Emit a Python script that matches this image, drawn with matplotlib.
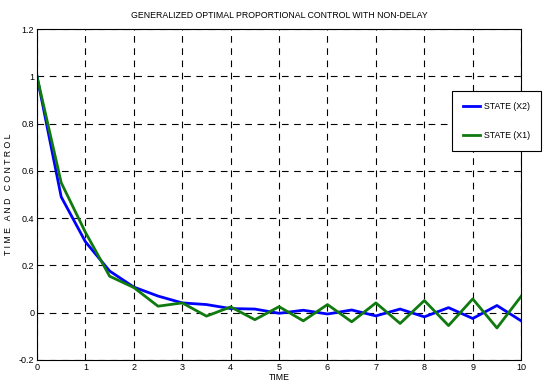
import matplotlib.pyplot as plt

t = [0, 0.5, 1, 1.5, 2, 2.5, 3, 3.5, 4, 4.5, 5, 5.5, 6, 6.5, 7, 7.5, 8, 8.5, 9, 9.5, 10]
x2 = [1.0, 0.49, 0.30, 0.176, 0.108, 0.07, 0.041, 0.034, 0.017, 0.015, -0.003,
      0.01, -0.006, 0.011, -0.014, 0.015, -0.018, 0.021, -0.025, 0.03, -0.035]
x1 = [1.0, 0.55, 0.34, 0.154, 0.106, 0.027, 0.041, -0.015, 0.024, -0.03, 0.025,
      -0.035, 0.034, -0.039, 0.041, -0.046, 0.051, -0.055, 0.058, -0.065, 0.069]

plt.rcParams['font.family'] = ['Liberation Sans', 'DejaVu Sans']

fig = plt.figure(figsize=(5.44, 3.89), dpi=100)
ax = fig.add_axes([0.068, 0.075, 0.89, 0.85])

ax.plot(t, x2, color='#0000ff', linewidth=2, label='STATE (X2)')
ax.plot(t, x1, color='#107a10', linewidth=2, label='STATE (X1)')

ax.set_xlim(0, 10)
ax.set_ylim(-0.2, 1.2)
ax.set_xticks(range(0, 11))
ax.set_yticks([-0.2, 0, 0.2, 0.4, 0.6, 0.8, 1, 1.2])
ax.set_yticklabels(['-0.2', '0', '0.2', '0.4', '0.6', '0.8', '1', '1.2'])
ax.tick_params(direction='in', labelsize=6.5, length=3, width=0.6, pad=2)
ax.grid(True, color='black', linestyle=(0, (6, 5)), linewidth=0.8)
for s in ax.spines.values():
    s.set_linewidth(0.8)

ax.set_title('GENERALIZED OPTIMAL PROPORTIONAL CONTROL WITH NON-DELAY', fontsize=6.3, pad=8)
ax.set_xlabel('TIME', fontsize=6.3, labelpad=1)
ax.set_ylabel('T I M E   A N D   C O N T R O L', fontsize=6.3, labelpad=4)

leg = ax.legend(loc='upper left', bbox_to_anchor=(0.857, 0.813), borderaxespad=0,
                fontsize=6.3, frameon=True, fancybox=False, edgecolor='black',
                framealpha=1, handlelength=2.0, handletextpad=0.4,
                labelspacing=2.3, borderpad=1.25)
leg.get_frame().set_linewidth(0.8)

fig.savefig('out.png', dpi=100)
